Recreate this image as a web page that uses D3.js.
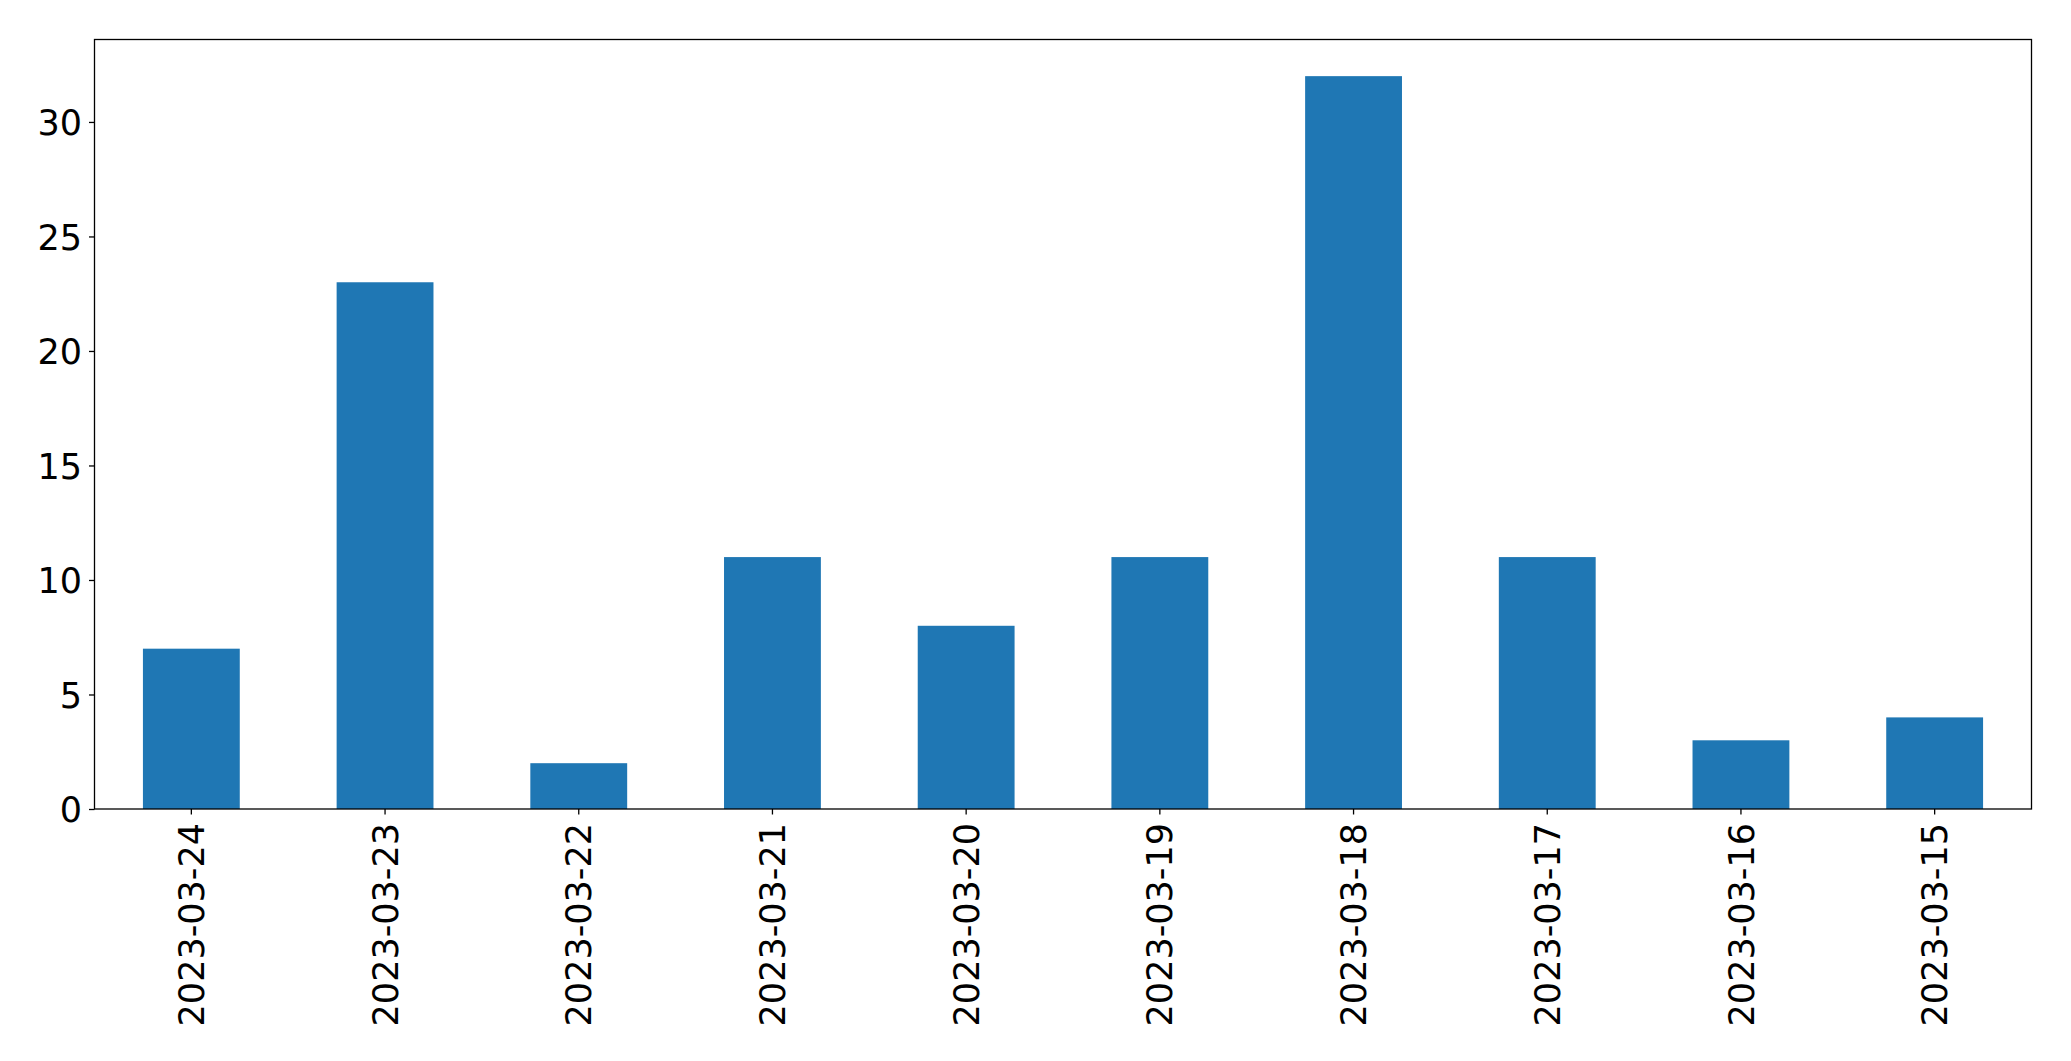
<!DOCTYPE html>
<html><head><meta charset="utf-8">
<script src="https://cdn.jsdelivr.net/npm/d3@7"></script>
<style>body{margin:0;background:#fff}svg{display:block}</style>
</head><body>
<script>
const categories = ["2023-03-24","2023-03-23","2023-03-22","2023-03-21","2023-03-20","2023-03-19","2023-03-18","2023-03-17","2023-03-16","2023-03-15"];
const values = [7,23,2,11,8,11,32,11,3,4];
const yTicks = [0,5,10,15,20,25,30];

const W=2071,H=1061;
const m={left:94.5,right:2071-2031.5,top:39.5,bottom:1061-809};
const svg=d3.select("body").append("svg").attr("width",W).attr("height",H);
const iw=W-m.left-m.right, ih=H-m.top-m.bottom;
const g=svg.append("g").attr("transform",`translate(${m.left},${m.top})`);

const x=d3.scaleBand().domain(categories).range([0,iw]).paddingInner(0.5).paddingOuter(0.25);
const y=d3.scaleLinear().domain([0,d3.max(values)*1.05]).range([ih,0]);

g.selectAll("rect.bar").data(values).join("rect").attr("class","bar")
 .attr("x",(d,i)=>x(categories[i])).attr("width",x.bandwidth())
 .attr("y",d=>y(d)).attr("height",d=>y(0)-y(d)).attr("fill","#1f77b4");

const font="DejaVu Sans";
const fs=35;
const ya=g.append("g").call(d3.axisLeft(y).tickValues(yTicks).tickSize(5.5).tickPadding(7));
ya.select(".domain").remove();
ya.selectAll("text").attr("font-family",font).attr("font-size",fs).attr("fill","#000").attr("dy","0.36em");
ya.selectAll("line").attr("stroke","#000").attr("stroke-width",1.3);

const xa=g.append("g").attr("transform",`translate(0,${ih})`).call(d3.axisBottom(x).tickSize(5.5).tickPadding(7));
xa.select(".domain").remove();
xa.selectAll("line").attr("stroke","#000").attr("stroke-width",1.3);
xa.selectAll("text").attr("font-family",font).attr("font-size",fs).attr("fill","#000")
  .attr("transform","rotate(-90)").attr("text-anchor","end").attr("x",-14).attr("y",0).attr("dy","0.36em");

g.append("rect").attr("x",0).attr("y",0).attr("width",iw).attr("height",ih)
 .attr("fill","none").attr("stroke","#000").attr("stroke-width",1.3);
</script>
</body></html>
